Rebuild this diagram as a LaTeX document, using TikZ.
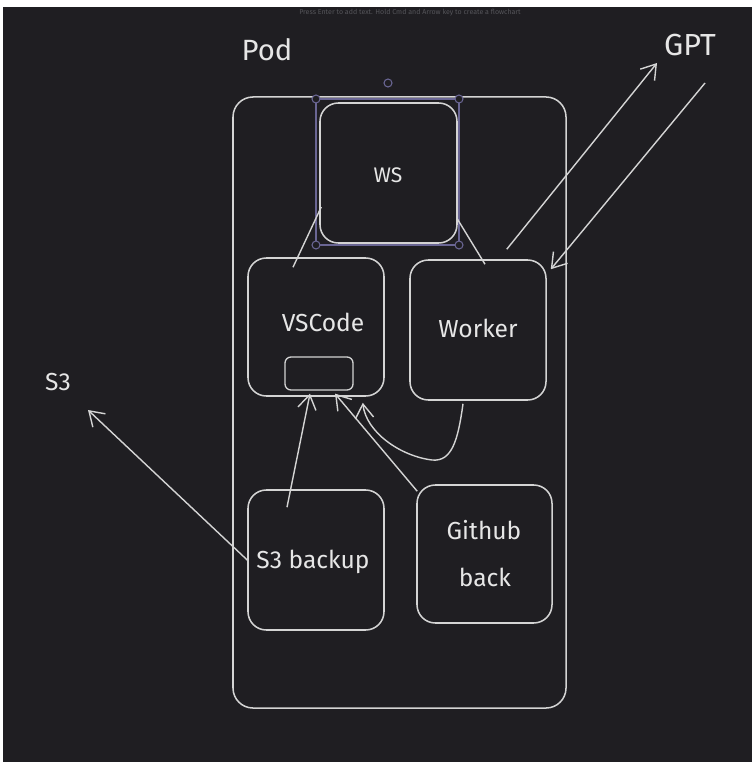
\documentclass[tikz,border=0pt]{standalone}
\usepackage{fontspec}
\setmainfont{Fira Sans}
\usetikzlibrary{arrows.meta,calc}
\definecolor{bg}{HTML}{1F1E22}
\definecolor{ink}{HTML}{D4D4D4}
\definecolor{txtc}{HTML}{E6E6E6}
\definecolor{sel}{HTML}{6A6694}
\definecolor{hint}{HTML}{55555A}
\begin{document}
\begin{tikzpicture}[x=0.03cm,y=-0.03cm,
  box/.style={draw=ink, line width=1.3pt, rounded corners=0.55cm, inner sep=0pt},
  smallbox/.style={draw=ink, line width=1.1pt, rounded corners=0.18cm, inner sep=0pt},
  ln/.style={draw=ink, line width=1.2pt},
  arr/.style={ln, -{Straight Barb[length=0.42cm,width=0.55cm,line width=1.2pt]}},
  txt/.style={text=txtc, inner sep=0pt, font=\fontsize{21}{25}\selectfont},
  handle/.style={draw=sel, fill=bg, line width=0.9pt, circle, minimum size=0.24cm, inner sep=0pt}
]
\fill[white] (0,0) rectangle (752,762);
\fill[bg] (3,7) rectangle (752,762);
\useasboundingbox (0,0) rectangle (752,762);

% hint text
\node[text=hint, font=\fontsize{6}{7}\selectfont, inner sep=0pt] (hinttext) at (410,13) {Press Enter to add text. Hold Cmd and Arrow key to create a flowchart};

% outer labels
\node[txt, font=\fontsize{25}{30}\selectfont] (podlabel) at (267,50) {Pod};
\node[txt, font=\fontsize{26}{30}\selectfont] (gpt) at (690,45) {GPT};
\node[txt] (s3) at (58,382) {S3};

% pod
\node[box, rounded corners=0.6cm, minimum width=9.99cm, minimum height=18.33cm] (pod) at (399.5,402.5) {};

% ws with selection
\node[box, minimum width=4.11cm, minimum height=4.2cm] (ws) at (388.5,173) {};
\node[txt, font=\fontsize{18}{22}\selectfont] (wstext) at (388,175) {WS};
\draw[sel, line width=1pt] (316,99) rectangle (459,245);
\node[handle] (h1) at (316,99) {};
\node[handle] (h2) at (459,99) {};
\node[handle] (h3) at (316,245) {};
\node[handle] (h4) at (459,245) {};
\node[handle] (hrot) at (388,83) {};

% vscode
\node[box, minimum width=4.08cm, minimum height=4.14cm] (vs) at (316,327) {};
\node[txt] (vstext) at (323,322) {VSCode};
\node[smallbox, minimum width=2.04cm, minimum height=0.99cm] (inner) at (319,373.5) {};

% worker
\node[box, minimum width=4.08cm, minimum height=4.2cm] (worker) at (478,330) {};
\node[txt] (workertext) at (478,328) {Worker};

% s3 backup
\node[box, minimum width=4.08cm, minimum height=4.2cm] (s3b) at (316,560) {};
\node[txt] (s3btext) at (313,562) {S3 backup};

% github back
\node[box, minimum width=4.05cm, minimum height=4.14cm] (gh) at (484.5,554) {};
\node[txt] (ghtext1) at (484,530) {Github};
\node[txt] (ghtext2) at (485,577) {back};

% connectors
\draw[ln] ($(ws.west)+(2,34)$) -- ($(vs.north)+(-23,10)$);
\draw[ln] ($(ws.east)+(-1,45)$) -- ($(worker.north)+(7,5)$);
\draw[arr] ($(worker.north east)+(-40,-10)$) -- ($(gpt)+(-33,18)$);
\draw[arr] ($(gpt)+(15,38)$) -- ($(worker.north east)+(4,10)$);
\draw[arr] (s3b.west) -- ($(s3)+(30,28)$);
\draw[arr] ($(s3b.north)+(-29,18)$) -- ($(inner.south)+(-9,3)$);
\draw[arr] ($(gh.north west)+(1,7)$) -- ($(inner.south)+(16,3)$);
\draw[arr] ($(worker.south)+(-15,3)$) .. controls (458,440) and (452,462) .. (432,460)
   .. controls (400,456) and (366,432) .. ($(vs.south east)+(-22,6)$);
\end{tikzpicture}
\end{document}
